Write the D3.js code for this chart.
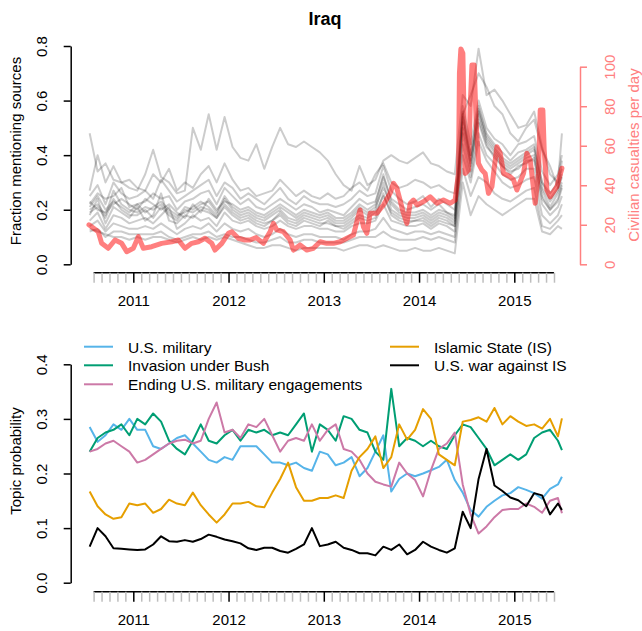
<!DOCTYPE html>
<html>
<head>
<meta charset="utf-8">
<script src="https://cdn.jsdelivr.net/npm/d3@7"></script>
<style>
  body { margin: 0px; background: white; }
  svg text { font-family: "Liberation Sans", Arial, sans-serif; }
</style>
</head>
<body>
<svg id="chart" width="642" height="631"></svg>
<script>
// ---------- data ----------
// shared x grid: middle of each month Jul 2010 .. Jun 2015, then 1 Jul 2015 (decimal years)
const months = d3.range(60).map(i => 2010 + (6.5 + i) / 12).concat([2015.5]);
// monthly ticks Aug 2010 .. Jun 2015
const monthTicks = d3.range(7, 66).map(m => 2010 + m / 12);

// fraction of sources mentioning Iraq, one array per source (gray lines)
const src1 = [.48,.34,.37,.31,.30,.28,.27,.33,.42,.32, .30,.26,.27,.50,.42,.55,.42,.54,.43,.39, .38,.44,.35,.43,.50,.44,.43,.45,.43,.41, .38,.33,.29,.27,.36,.29,.31,.38,.40,.38, .37,.39,.41,.37,.36,.34,.33,.62,.58,.79, .62,.64,.60,.55,.50,.51,.56,.43,.33,.30, .48];
const src2 = [.27,.40,.30,.36,.30,.31,.28,.27,.33,.30, .35,.27,.30,.28,.33,.36,.30,.37,.31,.27, .28,.25,.26,.27,.31,.28,.25,.27,.25,.24, .26,.24,.25,.28,.30,.27,.33,.37,.30,.28, .29,.31,.30,.28,.29,.27,.26,.55,.62,.70, .65,.58,.55,.48,.45,.50,.53,.42,.36,.28, .38];
const src3 = [.25,.29,.22,.30,.26,.24,.25,.27,.24,.31, .27,.23,.25,.27,.29,.31,.25,.30,.28,.24, .26,.24,.22,.25,.28,.24,.22,.25,.23,.22, .22,.21,.22,.24,.27,.25,.26,.36,.27,.24, .22,.23,.25,.21,.24,.22,.20,.58,.44,.60, .50,.46,.44,.40,.44,.45,.47,.34,.29,.33, .40];
const src4 = [.22,.26,.24,.25,.28,.21,.22,.23,.26,.24, .25,.20,.23,.24,.26,.27,.22,.28,.25,.22, .24,.21,.20,.22,.24,.22,.20,.22,.21,.19, .20,.19,.18,.21,.24,.22,.23,.32,.24,.22, .20,.21,.22,.20,.22,.19,.18,.55,.40,.57, .48,.44,.41,.38,.41,.42,.44,.30,.26,.30, .35];
const src5 = [.20,.22,.18,.27,.22,.20,.19,.21,.20,.22, .19,.17,.21,.20,.22,.23,.19,.25,.21,.19, .20,.18,.17,.19,.21,.19,.17,.19,.18,.17, .18,.16,.16,.18,.21,.19,.21,.28,.22,.19, .18,.18,.19,.17,.19,.18,.16,.52,.38,.55, .46,.42,.38,.36,.38,.40,.42,.28,.23,.27, .32];
const src6 = [.18,.24,.15,.21,.19,.17,.21,.16,.18,.26, .16,.15,.18,.17,.20,.19,.17,.22,.19,.17, .18,.16,.15,.16,.19,.16,.15,.17,.16,.15, .15,.14,.14,.16,.18,.17,.19,.25,.19,.17, .16,.16,.17,.15,.17,.16,.14,.48,.34,.52, .43,.40,.36,.34,.35,.38,.38,.25,.20,.24, .29];
const src7 = [.16,.19,.13,.18,.17,.15,.16,.17,.15,.18, .21,.13,.15,.18,.16,.17,.14,.19,.16,.15, .16,.14,.13,.14,.16,.14,.13,.14,.14,.13, .13,.12,.12,.14,.15,.15,.16,.22,.16,.15, .14,.14,.15,.13,.15,.14,.12,.44,.32,.48, .40,.37,.33,.31,.32,.35,.35,.22,.18,.21, .25];
const src8 = [.14,.16,.12,.15,.14,.13,.13,.14,.13,.15, .13,.11,.13,.14,.13,.15,.12,.15,.13,.12, .13,.11,.10,.11,.13,.11,.10,.11,.11,.10, .10,.10,.09,.11,.12,.12,.13,.17,.13,.12, .11,.12,.12,.11,.12,.11,.10,.40,.30,.45, .38,.34,.30,.28,.29,.31,.32,.18,.15,.18, .22];
const src9 = [.12,.13,.10,.12,.12,.11,.11,.11,.11,.12, .10,.09,.10,.11,.11,.12,.10,.11,.10,.10, .09,.08,.08,.09,.10,.08,.08,.09,.09,.08, .08,.08,.08,.09,.10,.10,.10,.12,.10,.09, .09,.09,.10,.09,.10,.09,.08,.35,.25,.32, .30,.26,.24,.23,.25,.27,.28,.14,.13,.16, .18];
const src10 = [.13,.12,.11,.10,.10,.09,.10,.09,.10,.10, .09,.08,.09,.10,.09,.10,.09,.10,.09,.08, .07,.06,.06,.07,.07,.06,.05,.06,.06,.06, .06,.06,.05,.06,.07,.07,.06,.07,.06,.05, .05,.06,.05,.05,.06,.05,.04,.30,.18,.25, .22,.20,.18,.20,.22,.24,.24,.12,.11,.14, .13];
const src11 = [.21,.25,.20,.23,.21,.19,.22,.19,.21,.23, .20,.18,.19,.21,.23,.21,.18,.24,.20,.18, .19,.17,.16,.18,.20,.17,.16,.18,.17,.16, .17,.15,.15,.17,.20,.18,.20,.30,.20,.18, .17,.17,.18,.16,.18,.17,.15,.56,.36,.56, .45,.41,.37,.35,.37,.39,.40,.27,.21,.26, .30];
const src12 = [.19,.21,.17,.24,.20,.18,.18,.20,.17,.21, .18,.16,.20,.19,.21,.20,.17,.21,.18,.16, .17,.15,.14,.16,.18,.15,.14,.16,.15,.14, .16,.14,.13,.15,.17,.16,.17,.26,.18,.16, .15,.16,.16,.14,.16,.15,.14,.50,.37,.53, .44,.39,.36,.33,.36,.37,.39,.24,.20,.23, .28];
const src13 = [.23,.20,.19,.22,.24,.22,.20,.24,.22,.20, .22,.19,.17,.22,.19,.24,.20,.23,.22,.20, .21,.19,.18,.20,.22,.20,.18,.20,.19,.18, .19,.17,.17,.19,.22,.20,.22,.33,.23,.20, .19,.19,.20,.18,.20,.19,.17,.54,.40,.58, .47,.43,.39,.37,.39,.41,.43,.30,.24,.28, .33];

// civilian casualties per day (red line), own time points
const casualtyTimes = [2010.535,2010.632,2010.668,2010.737,2010.808,2010.878,2010.931,2011.0,2011.053,2011.105,
  2011.193,2011.298,2011.403,2011.473,2011.543,2011.613,2011.683,2011.753,2011.824,2011.858,
  2011.929,2011.998,2012.034,2012.103,2012.173,2012.226,2012.29,2012.366,2012.436,2012.471,
  2012.506,2012.576,2012.646,2012.681,2012.751,2012.821,2012.891,2012.961,2013.031,2013.101,
  2013.171,2013.242,2013.311,2013.347,2013.381,2013.416,2013.452,2013.486,2013.557,2013.626,
  2013.696,2013.731,2013.767,2013.801,2013.836,2013.872,2013.907,2013.941,2013.98,2014.046,
  2014.117,2014.187,2014.256,2014.327,2014.379,2014.414,2014.424,2014.439,2014.46,2014.474,
  2014.484,2014.519,2014.537,2014.555,2014.579,2014.6,2014.624,2014.66,2014.694,2014.729,
  2014.765,2014.817,2014.852,2014.887,2014.957,2014.992,2015.027,2015.097,2015.132,2015.167,
  2015.219,2015.254,2015.272,2015.3,2015.314,2015.342,2015.377,2015.447,2015.5];
const casualties = [20,16.5,10.6,8.1,12.3,10.6,6.4,8.1,14,8.1,
  8.9,10.6,11.4,12.3,8.1,10.6,11.4,13.2,10.6,7.2,
  10.6,15.7,16.5,13.2,12.3,12.3,13.5,10.6,16.5,20.7,
  17.4,16.5,12.3,7.2,9.8,7.2,8.1,11.4,10.6,10.6,
  11.4,13.2,14.8,21.6,27.5,19,15.7,25.8,25.8,30,
  35.9,41,38.5,32.5,25.8,20.7,30.9,32.5,30,31.7,
  34.2,30.9,32.5,30.9,32.5,46,96.7,109,106.8,71.4,
  46,47.7,79.8,100.9,100.9,71.4,51.1,47.7,46,35.9,
  39.3,59.5,56.2,46,44.3,42.7,37.6,46,56.2,52.8,
  30.9,46,78.1,78.1,57.8,37.6,34.2,39.3,48.6];

// topic probabilities (bottom panel), on the monthly grid
const usMilitary = [.285,.258,.27,.29,.28,.3,.28,.28,.25,.245, .255,.265,.27,.255,.24,.225,.22,.23,.225,.25, .25,.25,.235,.22,.22,.215,.22,.21,.205,.24, .235,.215,.22,.23,.195,.21,.24,.27,.167,.19, .2,.195,.2,.206,.212,.225,.188,.165,.133,.121, .139,.15,.16,.164,.175,.17,.164,.154,.172,.18, .194];
const invasionBush = [.24,.265,.275,.28,.29,.27,.3,.29,.31,.295, .26,.245,.235,.26,.29,.26,.255,.27,.28,.26, .28,.275,.28,.27,.275,.27,.29,.31,.24,.29, .28,.26,.305,.3,.28,.275,.24,.225,.355,.25, .265,.26,.25,.26,.25,.245,.27,.29,.285,.265, .245,.215,.225,.235,.225,.235,.265,.275,.28,.26, .243];
const endingEngagements = [.24,.245,.255,.26,.25,.24,.22,.225,.235,.245, .255,.26,.262,.255,.26,.3,.33,.275,.28,.265, .29,.285,.3,.27,.24,.26,.265,.26,.29,.26, .28,.29,.245,.24,.225,.2,.185,.18,.176,.22, .2,.188,.158,.206,.245,.255,.275,.18,.125,.09, .103,.12,.133,.135,.135,.145,.139,.128,.15,.155, .127];
const islamicState = [.167,.14,.125,.117,.12,.145,.142,.145,.128,.135, .152,.145,.142,.165,.142,.125,.11,.125,.145,.145, .148,.14,.138,.165,.19,.22,.175,.15,.15,.155, .155,.16,.155,.205,.23,.245,.268,.21,.23,.29, .262,.28,.318,.3,.235,.225,.215,.295,.298,.303, .295,.32,.29,.305,.295,.287,.29,.282,.3,.268, .301];
const warAgainstIS = [.066,.1,.085,.063,.062,.061,.06,.061,.07,.085, .076,.075,.078,.075,.08,.088,.084,.079,.076,.072, .063,.06,.064,.064,.058,.055,.062,.07,.1,.067, .07,.075,.064,.06,.054,.054,.05,.066,.06,.07, .052,.06,.075,.066,.06,.055,.063,.13,.1,.19, .245,.178,.168,.156,.151,.14,.164,.16,.125,.145, .133];

const topicNames = ["U.S. military", "Invasion under Bush", "Ending U.S. military engagements", "Islamic State (IS)", "U.S. war against IS"];
const topicColors = ["#56B4E9", "#009E73", "#CC79A7", "#E69F00", "#000000"];

// ---------- drawing ----------
const svg = d3.select("#chart");
const FONT = 15;
const isYear = d => Math.abs(d - Math.round(d)) < 1e-6;

const x = d3.scaleLinear().domain([2011, 2015]).range([133.3, 514.3]);
const yTop = d3.scaleLinear().domain([0, 0.8]).range([264.3, 46]);
const yCas = d3.scaleLinear().domain([0, 100]).range([264.3, 66.7]);
const yBot = d3.scaleLinear().domain([0, 0.4]).range([582.7, 364.3]);

// title
svg.append("text").attr("x", 325).attr("y", 25).attr("text-anchor", "middle")
  .attr("font-size", 18).attr("font-weight", "bold").text("Iraq");

// gray source lines
const grayLine = d3.line().x((d, i) => x(months[i])).y(d => yTop(d));
[src1, src2, src3, src4, src5, src6, src7, src8, src9, src10, src11, src12, src13].forEach(s => {
  svg.append("path").datum(s).attr("d", grayLine)
    .attr("fill", "none").attr("stroke", "rgba(0,0,0,0.2)").attr("stroke-width", 2)
    .attr("stroke-linejoin", "round");
});

// red casualties line
const redLine = d3.line().x((d, i) => x(casualtyTimes[i])).y(d => yCas(d));
svg.append("path").datum(casualties).attr("d", redLine)
  .attr("fill", "none").attr("stroke", "rgba(255,0,0,0.5)").attr("stroke-width", 5)
  .attr("stroke-linejoin", "round").attr("stroke-linecap", "round");

// topic lines
const topicSeries = [usMilitary, invasionBush, endingEngagements, islamicState, warAgainstIS];
const topicLine = d3.line().x((d, i) => x(months[i])).y(d => yBot(d));
topicSeries.forEach((s, k) => {
  svg.append("path").datum(s).attr("d", topicLine)
    .attr("fill", "none").attr("stroke", topicColors[k]).attr("stroke-width", 2)
    .attr("stroke-linejoin", "round");
});

// x axes (gray monthly ticks, black year ticks)
function timeAxis(yPos) {
  const g = svg.append("g").attr("transform", `translate(0,${yPos})`);
  g.append("line")
    .attr("x1", x(monthTicks[0])).attr("x2", x(monthTicks[monthTicks.length - 1]))
    .attr("stroke", "black").attr("stroke-width", 1.5);
  const a = g.append("g").call(d3.axisBottom(x).tickValues(monthTicks)
    .tickSize(10).tickPadding(13).tickFormat(d => isYear(d) ? Math.round(d) : ""));
  a.attr("font-size", FONT);
  a.select(".domain").remove();
  a.selectAll(".tick line").attr("stroke", d => isYear(d) ? "black" : "#bebebe").attr("stroke-width", 1.5);
  a.selectAll(".tick").filter(d => isYear(d)).raise();
}
timeAxis(272.7);
timeAxis(591.7);

// y axes
function yAxis(axis, xPos, color, labelOffset) {
  const a = svg.append("g").attr("transform", `translate(${xPos},0)`).call(axis);
  a.attr("font-size", FONT);
  a.select(".domain").attr("stroke", color).attr("stroke-width", 1.5);
  a.selectAll(".tick line").attr("stroke", color).attr("stroke-width", 1.5);
  a.selectAll(".tick text").attr("fill", color)
    .attr("transform", "rotate(-90)").attr("x", 0).attr("y", labelOffset).attr("dy", 0)
    .attr("text-anchor", "middle");
}
yAxis(d3.axisLeft(yTop).tickValues([0, 0.2, 0.4, 0.6, 0.8]).tickFormat(d3.format(".1f")).tickSize(7).tickSizeOuter(0), 70.7, "black", -24);
yAxis(d3.axisRight(yCas).tickValues([0, 20, 40, 60, 80, 100]).tickSize(7).tickSizeOuter(0), 580, "#ff8080", 35);
yAxis(d3.axisLeft(yBot).tickValues([0, 0.1, 0.2, 0.3, 0.4]).tickFormat(d3.format(".1f")).tickSize(7).tickSizeOuter(0), 70.7, "black", -24);

// axis titles
function vLabel(xPos, yPos, txt, color) {
  svg.append("text").attr("transform", `translate(${xPos},${yPos}) rotate(-90)`)
    .attr("text-anchor", "middle").attr("font-size", FONT).attr("fill", color).text(txt);
}
vLabel(21, 151, "Fraction mentioning sources", "black");
vLabel(638.5, 155, "Civilian casualties per day", "#ff8080");
vLabel(21, 461, "Topic probability", "black");

// legend (two columns)
const legendPos = [[84, 346.7], [84, 365.3], [84, 384.3], [390, 346.7], [390, 365.3]];
topicNames.forEach((name, k) => {
  const [lx, ly] = legendPos[k];
  svg.append("line").attr("x1", lx).attr("x2", lx + 29).attr("y1", ly).attr("y2", ly)
    .attr("stroke", topicColors[k]).attr("stroke-width", 2);
  svg.append("text").attr("x", lx + 44).attr("y", ly + 6).attr("font-size", 15.5).text(name);
});
</script>
</body>
</html>
